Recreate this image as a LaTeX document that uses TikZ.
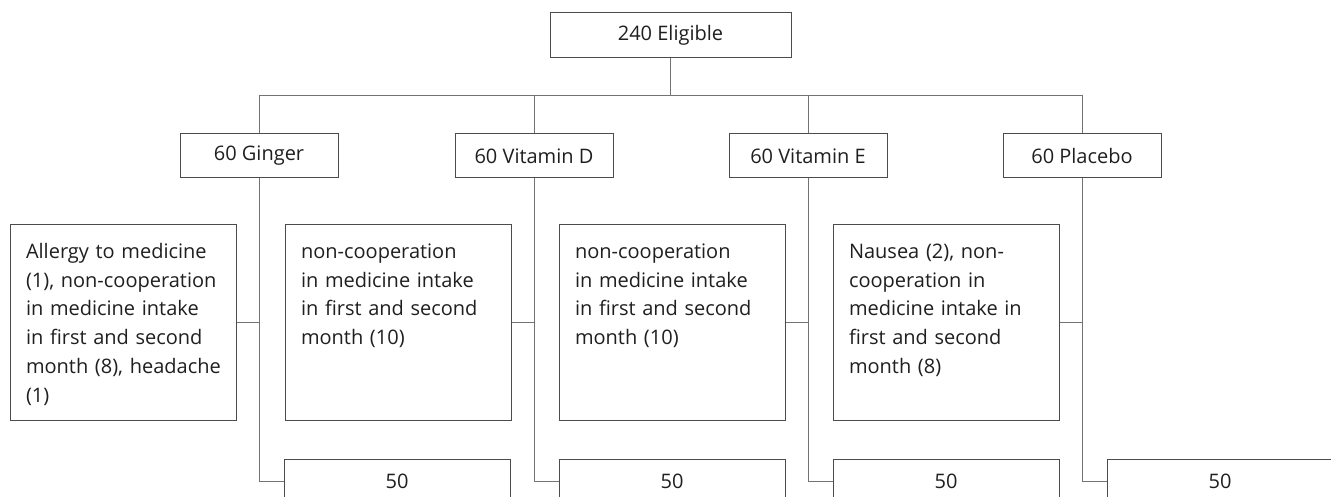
\documentclass[tikz,border=0pt]{standalone}
\usepackage{fontspec}
\setmainfont{Open Sans}
\usetikzlibrary{positioning}

\tikzset{
  box/.style={draw=black!70, line width=1pt, text=black!88,
    font=\fontsize{20}{28.7}\selectfont},
  arm/.style={box, minimum width=158pt, minimum height=44pt},
  lost/.style={box, anchor=north, text width=194pt, inner xsep=16pt,
    inner ysep=20pt, align=left, text height=14pt, text depth=142pt},
  done/.style={box, anchor=north, minimum width=226pt, minimum height=44pt},
  link/.style={draw=black!55, line width=1pt}
}

\begin{document}
\begin{tikzpicture}[x=1pt,y=1pt]
  \useasboundingbox (0,0) rectangle (1331,-497);
  \clip (0,0) rectangle (1331,-497);

  % top and the four arms
  \node[box, minimum width=241pt, minimum height=44.6pt] (elig) at (670.5,-35) {240 Eligible};
  \node[arm] (ginger) at (259,-156) {60 Ginger};
  \node[arm] (vitd) at (534,-156) {60 Vitamin D};
  \node[arm] (vite) at (808,-156) {60 Vitamin E};
  \node[arm] (placebo) at (1082,-156) {60 Placebo};
  \coordinate (bar) at (0,-95.7);

  \draw[link] (elig.south) -- (elig.south |- bar);
  \draw[link] (ginger.north) |- (placebo.north |- bar) -- (placebo.north);
  \draw[link] (vitd.north) -- (vitd.north |- bar);
  \draw[link] (vite.north) -- (vite.north |- bar);

  % drop outs
  \node[lost] (exg) at (123,-224) {Allergy to medicine\\ (1), non-cooperation\\ in medicine intake\\ in first and second\\ \mbox{month (8), headache}\\ (1)};
  \node[lost] (exd) at (398,-224) {non-cooperation\\ in medicine intake\\ in first and second\\ month (10)};
  \node[lost] (exe) at (672,-224) {non-cooperation\\ in medicine intake\\ in first and second\\ month (10)};
  \node[lost] (exp) at (946,-224) {Nausea (2), non-\\ cooperation in\\ medicine intake in\\ first and second\\ month (8)};

  % analysed
  \node[done] (fg) at (397,-459) {50};
  \node[done] (fd) at (672,-459) {50};
  \node[done] (fe) at (946,-459) {50};
  \node[done] (fp) at (1220,-459) {50};

  \draw[link] (ginger.south) |- (fg.west);
  \draw[link] (vitd.south) |- (fd.west);
  \draw[link] (vite.south) |- (fe.west);
  \draw[link] (placebo.south) |- (fp.west);
  \draw[link] (exg.east) -- (exg.east -| ginger.south);
  \draw[link] (exd.east) -- (exd.east -| vitd.south);
  \draw[link] (exe.east) -- (exe.east -| vite.south);
  \draw[link] (exp.east) -- (exp.east -| placebo.south);
\end{tikzpicture}
\end{document}
